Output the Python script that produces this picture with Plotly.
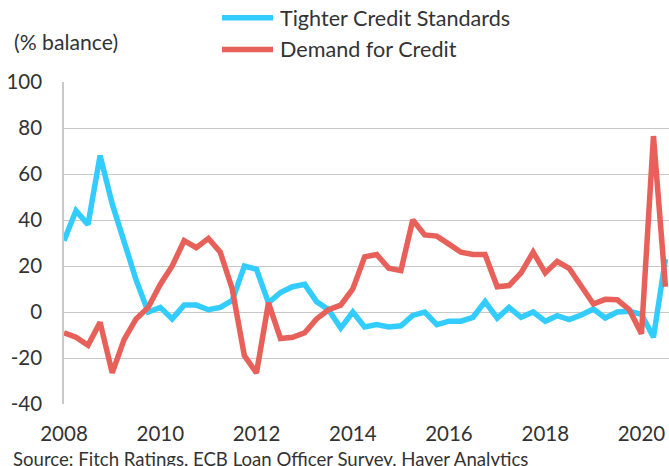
import plotly.graph_objects as go
import pandas as pd

dates = pd.date_range("2008-01-01", periods=51, freq="QS")

tighter_standards = [31, 44, 38, 68, 47, 30, 14, 0, 2, -3, 3, 3, 1, 2, 5, 20, 18.6,
                     4, 8.5, 11, 12, 4.5, 1, -7, 0, -6.5, -5.5, -6.5, -6, -1.5, 0, -5.5,
                     -4, -4, -2.3, 4.5, -2.7, 2, -2.3, 0, -4, -1.6, -3.3, -1.3, 1.3, -2.6,
                     0, 0.3, -1, -11, 23]
demand_credit = [-9, -11, -14.5, -4.5, -26.5, -12, -3, 2, 12, 20, 31, 28, 32, 26, 10, -19, -26.5,
                 4, -11.5, -11, -9, -3, 1, 3, 10, 24, 25, 19, 18, 40, 33.5, 33,
                 29.5, 26, 25, 25, 11, 11.5, 17, 26, 17, 22, 19, 11, 3.5, 5.5,
                 5.3, 1, -9.5, 76.5, 11]

y_ticks = [-40, -20, 0, 20, 40, 60, 80, 100]
y_tick_labels = ["-40", "-20", "0", "20", "40", "60", "80", "100"]
series_names = ["Tighter Credit Standards", "Demand for Credit"]
colors = ["#33CCFF", "#E8605A"]

FONT = "Lato"
TXT = "#333333"

W, H = 669, 466
ML, MR, MT, MB = 64, 0, 81.7, H - 404.5
PW, PH = W - ML - MR, H - MT - MB


def px_x(x):
    return (x - ML) / PW


def px_y(y):
    return (H - MB - y) / PH


fig = go.Figure()
for i, (name, vals) in enumerate(zip(series_names, [tighter_standards, demand_credit])):
    fig.add_trace(go.Scatter(x=dates, y=vals, mode="lines", name=name,
                             showlegend=False,
                             line=dict(color=colors[i], width=5.5)))

# Legend drawn as line samples + labels
legend_rows_y = [17.3, 49]
shapes = []
annotations = []
for name, col, ly in zip(series_names, colors, legend_rows_y):
    shapes.append(dict(type="line", xref="paper", yref="paper",
                       x0=px_x(222), x1=px_x(273), y0=px_y(ly), y1=px_y(ly),
                       line=dict(color=col, width=5.5)))
    annotations.append(dict(text=name, xref="paper", yref="paper", x=px_x(278), y=px_y(ly),
                            xanchor="left", yanchor="middle", showarrow=False,
                            font=dict(family=FONT, size=21.6, color=TXT)))

annotations += [
    dict(text="(% balance)", xref="paper", yref="paper", x=px_x(12), y=px_y(41.7),
         xanchor="left", yanchor="middle", showarrow=False,
         font=dict(family=FONT, size=21.2, color=TXT)),
    dict(text="Source: Fitch Ratings, ECB Loan Officer Survey, Haver Analytics",
         xref="paper", yref="paper", x=px_x(11), y=px_y(460),
         xanchor="left", yanchor="middle", showarrow=False,
         font=dict(family=FONT, size=18.6, color=TXT)),
]

fig.update_layout(
    width=W, height=H,
    margin=dict(l=ML, r=MR, t=MT, b=MB, autoexpand=False, pad=0),
    paper_bgcolor="white", plot_bgcolor="white",
    font=dict(family=FONT, size=20, color=TXT),
    showlegend=False,
    xaxis=dict(type="date", range=["2008-01-01", "2020-07-28"],
               tickmode="linear", tick0="2008-01-01", dtick="M24", tickformat="%Y",
               showgrid=False, zeroline=False, showline=False, ticks="",
               tickangle=0, automargin=False, ticklabelstandoff=15,
               tickfont=dict(family=FONT, size=20.5, color=TXT)),
    yaxis=dict(range=[-40, 100], tickvals=y_ticks, ticktext=y_tick_labels, showgrid=True,
               gridcolor="#C8C8C8", gridwidth=1.2, zeroline=False, automargin=False,
               showline=True, linecolor="#C8C8C8", linewidth=1.5, ticks="",
               tickfont=dict(family=FONT, size=20.5, color=TXT), ticklabelstandoff=16),
    shapes=shapes,
    annotations=annotations,
)

fig.write_html(
    "out.html",
    config={"displayModeBar": False},
    post_script="document.body.style.margin='0px';document.body.style.overflow='hidden';",
)
